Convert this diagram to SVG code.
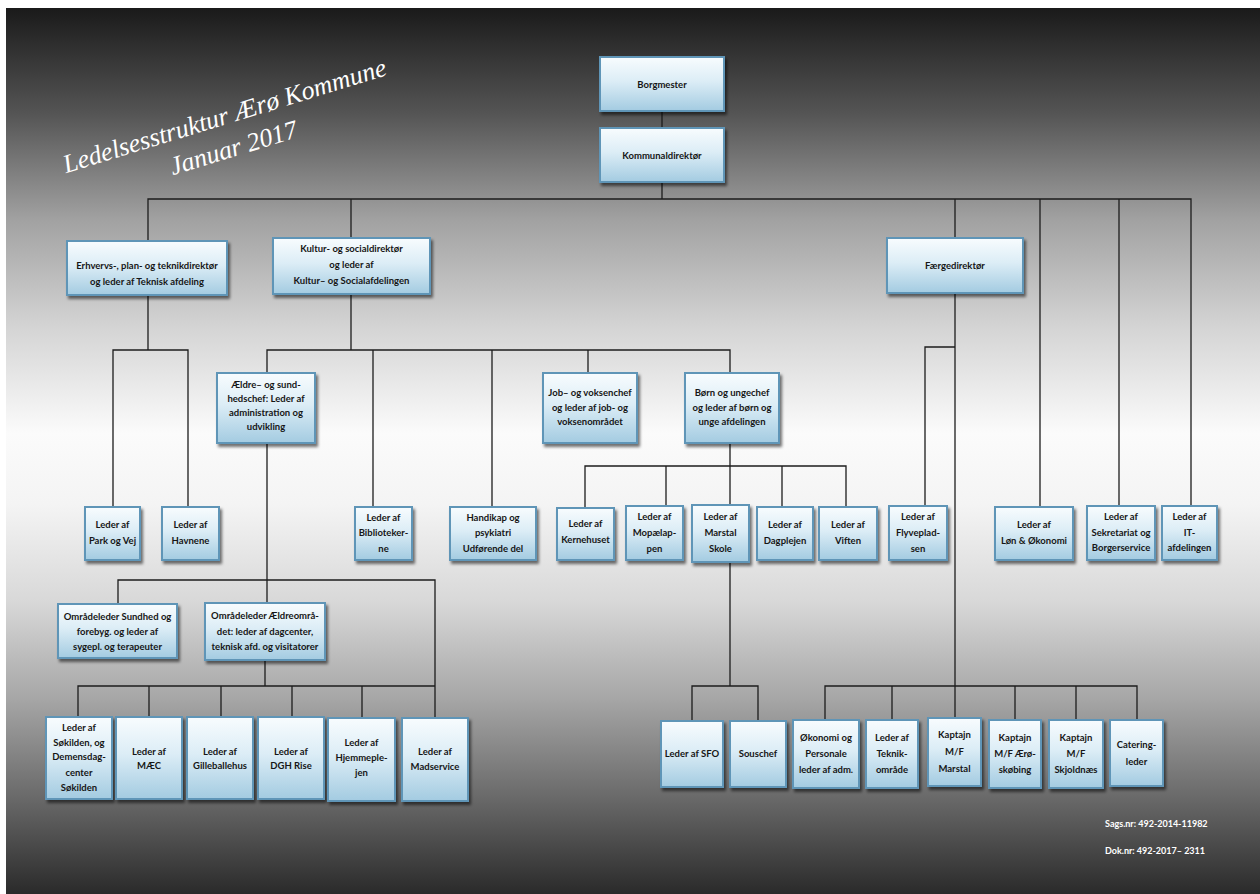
<svg xmlns="http://www.w3.org/2000/svg" width="1260" height="894" viewBox="0 0 1260 894">
<defs>
<linearGradient id="bg" x1="0" y1="0" x2="0" y2="1">
<stop offset="0" stop-color="#1a1a1a"/>
<stop offset="0.12" stop-color="#555555"/>
<stop offset="0.24" stop-color="#a2a2a2"/>
<stop offset="0.36" stop-color="#d4d4d4"/>
<stop offset="0.48" stop-color="#fbfbfb"/>
<stop offset="0.56" stop-color="#f4f4f4"/>
<stop offset="0.67" stop-color="#d8d8d8"/>
<stop offset="0.78" stop-color="#a6a6a6"/>
<stop offset="0.89" stop-color="#6a6a6a"/>
<stop offset="1" stop-color="#2a2a2a"/>
</linearGradient>
<linearGradient id="bx" x1="0" y1="0" x2="0" y2="1">
<stop offset="0" stop-color="#f8fcfe"/>
<stop offset="0.45" stop-color="#dcedf6"/>
<stop offset="1" stop-color="#a3cbe1"/>
</linearGradient>
<filter id="sh" x="-20%" y="-20%" width="150%" height="150%">
<feDropShadow dx="2" dy="3" stdDeviation="1.4" flood-color="#000" flood-opacity="0.55"/>
</filter>
</defs>
<style>
.b rect{fill:url(#bx);stroke:#5f95b7;stroke-width:2;filter:url(#sh)}
.b text{font-family:Lato,"Liberation Sans",sans-serif;font-size:9.5px;font-weight:700;fill:#161616;text-anchor:middle}
.c path{fill:none;stroke:#1c1c1c;stroke-width:1.3}
.title{font-family:"Liberation Serif",serif;font-style:italic;font-size:26px;fill:#ffffff;text-anchor:middle}
.ref{font-family:Lato,"Liberation Sans",sans-serif;font-size:9px;font-weight:700;fill:#ffffff}
</style>
<rect x="0" y="0" width="1260" height="894" fill="#ffffff"/>
<rect x="6" y="8" width="1254" height="886" fill="url(#bg)"/>

<g id="title">
<text class="title" transform="translate(227,124) rotate(-17)">Ledelsesstruktur Ærø Kommune</text>
<text class="title" transform="translate(236,156) rotate(-17)">Januar 2017</text>
</g>

<g class="c" id="connectors">
<path d="M662 111V128"/>
<path d="M662 182V199"/>
<path d="M148 241V199H1191V506"/>
<path d="M351 199V238"/>
<path d="M955 199V238"/>
<path d="M1040 199V507"/>
<path d="M1119 199V506"/>
<path d="M148 295V350"/>
<path d="M113 507V350H188V507"/>
<path d="M351 294V350"/>
<path d="M267 373V350H730V373"/>
<path d="M373 350V507"/>
<path d="M492 350V507"/>
<path d="M588 350V373"/>
<path d="M267 443V603"/>
<path d="M118 604V580H435V718"/>
<path d="M265 660V686"/>
<path d="M78 717V686H435"/>
<path d="M149 686V717"/>
<path d="M221 686V717"/>
<path d="M292 686V717"/>
<path d="M362 686V718"/>
<path d="M730 443V466"/>
<path d="M585 508V466H846V507"/>
<path d="M666 466V506"/>
<path d="M730 466V505"/>
<path d="M782 466V507"/>
<path d="M730 562V686"/>
<path d="M692 721V686H758V721"/>
<path d="M955 293V720"/>
<path d="M955 347H925V506"/>
<path d="M825 720V686H1137V720"/>
<path d="M892 686V720"/>
<path d="M1015 686V720"/>
<path d="M1076 686V720"/>
</g>

<g class="b" id="borgmester"><rect x="600" y="57" width="124" height="54"/><text x="662" y="87.5">Borgmester</text></g>
<g class="b" id="kommunaldirektor"><rect x="600" y="128" width="124" height="54"/><text x="662" y="158.5">Kommunaldirektør</text></g>
<g class="b" id="erhverv"><rect x="67" y="241" width="160" height="54"/><text x="147" y="269">Erhvervs-, plan- og teknikdirektør</text><text x="147" y="285">og leder af Teknisk afdeling</text></g>
<g class="b" id="kultur"><rect x="273" y="238" width="157" height="56"/><text x="351.5" y="252">Kultur- og socialdirektør</text><text x="351.5" y="268">og leder af</text><text x="351.5" y="284">Kultur– og Socialafdelingen</text></g>
<g class="b" id="faerge"><rect x="887" y="238" width="136" height="55"/><text x="955" y="269">Færgedirektør</text></g>

<g class="b" id="park"><rect x="85" y="507" width="55" height="53"/><text x="112.5" y="528">Leder af</text><text x="112.5" y="544">Park og Vej</text></g>
<g class="b" id="havnene"><rect x="162" y="507" width="57" height="53"/><text x="190.5" y="528">Leder af</text><text x="190.5" y="544">Havnene</text></g>
<g class="b" id="aeldre"><rect x="217" y="373" width="98" height="70"/><text x="266" y="388">Ældre– og sund-</text><text x="266" y="402">hedschef: Leder af</text><text x="266" y="416">administration og</text><text x="266" y="430">udvikling</text></g>
<g class="b" id="biblioteker"><rect x="355" y="507" width="57" height="53"/><text x="383.5" y="521">Leder af</text><text x="383.5" y="536">Biblioteker-</text><text x="383.5" y="552">ne</text></g>
<g class="b" id="handikap"><rect x="450" y="507" width="86" height="53"/><text x="493" y="521">Handikap og</text><text x="493" y="536">psykiatri</text><text x="493" y="552">Udførende del</text></g>
<g class="b" id="job"><rect x="543" y="373" width="94" height="70"/><text x="590" y="396">Job– og voksenchef</text><text x="590" y="411">og leder af job- og</text><text x="590" y="425">voksenområdet</text></g>
<g class="b" id="born"><rect x="685" y="373" width="94" height="70"/><text x="732" y="396">Børn og ungechef</text><text x="732" y="411">og leder af børn og</text><text x="732" y="425">unge afdelingen</text></g>

<g class="b" id="kernehuset"><rect x="557" y="508" width="57" height="52"/><text x="585.5" y="527">Leder af</text><text x="585.5" y="543">Kernehuset</text></g>
<g class="b" id="mopaelappen"><rect x="626" y="506" width="57" height="54"/><text x="654.5" y="520">Leder af</text><text x="654.5" y="536">Mopælap-</text><text x="654.5" y="552">pen</text></g>
<g class="b" id="marstalskole"><rect x="692" y="505" width="57" height="57"/><text x="720.5" y="520">Leder af</text><text x="720.5" y="536">Marstal</text><text x="720.5" y="552">Skole</text></g>
<g class="b" id="dagplejen"><rect x="757" y="507" width="56" height="53"/><text x="785" y="528">Leder af</text><text x="785" y="544">Dagplejen</text></g>
<g class="b" id="viften"><rect x="819" y="507" width="58" height="53"/><text x="848" y="528">Leder af</text><text x="848" y="544">Viften</text></g>
<g class="b" id="flyvepladsen"><rect x="889" y="506" width="58" height="54"/><text x="918" y="520">Leder af</text><text x="918" y="536">Flyveplad-</text><text x="918" y="552">sen</text></g>
<g class="b" id="lon"><rect x="995" y="507" width="78" height="53"/><text x="1034" y="528">Leder af</text><text x="1034" y="544">Løn &amp; Økonomi</text></g>
<g class="b" id="sekretariat"><rect x="1087" y="506" width="68" height="54"/><text x="1121" y="520">Leder af</text><text x="1121" y="536">Sekretariat og</text><text x="1121" y="551">Borgerservice</text></g>
<g class="b" id="it"><rect x="1162" y="506" width="55" height="54"/><text x="1189.5" y="520">Leder af</text><text x="1189.5" y="536">IT-</text><text x="1189.5" y="551">afdelingen</text></g>

<g class="b" id="sundhed"><rect x="58" y="604" width="119" height="54"/><text x="117.5" y="620">Områdeleder Sundhed og</text><text x="117.5" y="635">forebyg. og leder af</text><text x="117.5" y="650">sygepl. og terapeuter</text></g>
<g class="b" id="aeldreomraade"><rect x="205" y="603" width="120" height="57"/><text x="265" y="619">Områdeleder Ældreområ-</text><text x="265" y="635">det: leder af dagcenter,</text><text x="265" y="650">teknisk afd. og visitatorer</text></g>

<g class="b" id="sokilden"><rect x="46" y="717" width="66" height="82"/><text x="79" y="731">Leder af</text><text x="79" y="746">Søkilden, og</text><text x="79" y="760">Demensdag-</text><text x="79" y="776">center</text><text x="79" y="791">Søkilden</text></g>
<g class="b" id="maec"><rect x="116" y="717" width="66" height="82"/><text x="149" y="755">Leder af</text><text x="149" y="769">MÆC</text></g>
<g class="b" id="gilleballehus"><rect x="187" y="717" width="66" height="82"/><text x="220" y="755">Leder af</text><text x="220" y="769">Gilleballehus</text></g>
<g class="b" id="dghrise"><rect x="258" y="717" width="66" height="82"/><text x="291" y="755">Leder af</text><text x="291" y="769">DGH Rise</text></g>
<g class="b" id="hjemmeplejen"><rect x="328" y="718" width="67" height="83"/><text x="361.5" y="746">Leder af</text><text x="361.5" y="761">Hjemmeple-</text><text x="361.5" y="776">jen</text></g>
<g class="b" id="madservice"><rect x="402" y="718" width="66" height="83"/><text x="435" y="755">Leder af</text><text x="435" y="770">Madservice</text></g>

<g class="b" id="sfo"><rect x="661" y="721" width="62" height="66"/><text x="692" y="757">Leder af SFO</text></g>
<g class="b" id="souschef"><rect x="730" y="721" width="56" height="66"/><text x="758" y="757">Souschef</text></g>
<g class="b" id="okonomi"><rect x="793" y="720" width="66" height="68"/><text x="826" y="741">Økonomi og</text><text x="826" y="757">Personale</text><text x="826" y="773">leder af adm.</text></g>
<g class="b" id="teknik"><rect x="866" y="720" width="52" height="68"/><text x="892" y="741">Leder af</text><text x="892" y="757">Teknik-</text><text x="892" y="773">område</text></g>
<g class="b" id="kaptajnmarstal"><rect x="928" y="718" width="53" height="68"/><text x="954.5" y="738">Kaptajn</text><text x="954.5" y="755">M/F</text><text x="954.5" y="772">Marstal</text></g>
<g class="b" id="kaptajnaero"><rect x="989" y="720" width="52" height="68"/><text x="1015" y="741">Kaptajn</text><text x="1015" y="757">M/F Ærø-</text><text x="1015" y="773">skøbing</text></g>
<g class="b" id="kaptajnskjold"><rect x="1049" y="720" width="54" height="68"/><text x="1076" y="741">Kaptajn</text><text x="1076" y="757">M/F</text><text x="1076" y="773">Skjoldnæs</text></g>
<g class="b" id="catering"><rect x="1110" y="720" width="53" height="66"/><text x="1136.5" y="748">Catering-</text><text x="1136.5" y="765">leder</text></g>

<g id="refs">
<text class="ref" x="1105" y="827">Sags.nr: 492-2014-11982</text>
<text class="ref" x="1105" y="854">Dok.nr:  492-2017– 2311</text>
</g>
</svg>
